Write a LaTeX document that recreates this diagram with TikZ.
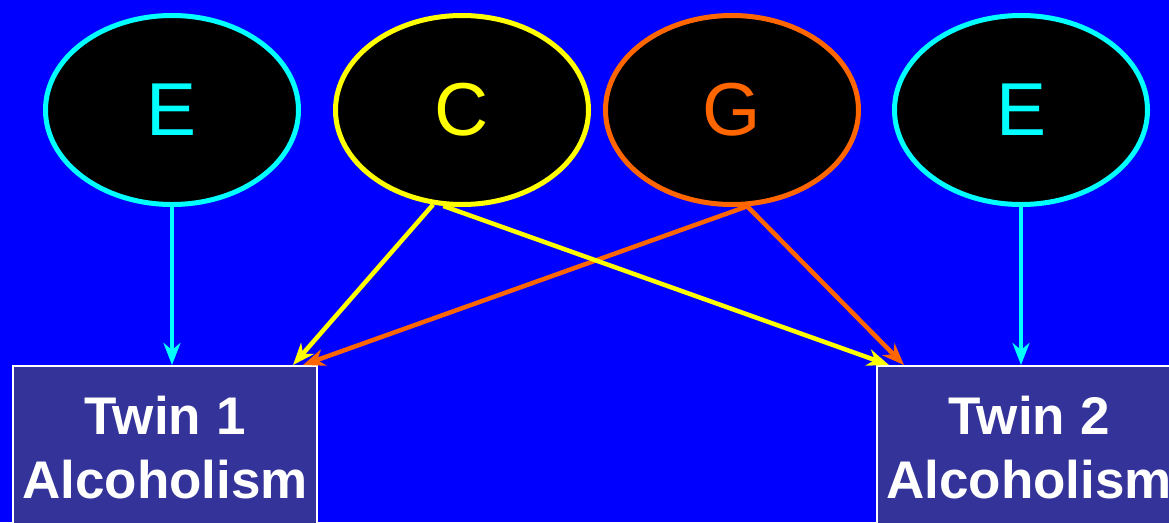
\documentclass[tikz,border=0pt]{standalone}
\usepackage{fontspec}
\setmainfont{Liberation Sans}
\usetikzlibrary{shapes.geometric, arrows.meta, positioning, calc}
\definecolor{slideblue}{RGB}{0, 0, 255}
\definecolor{boxblue}{RGB}{51, 51, 153}
\definecolor{envcyan}{RGB}{0, 255, 255}
\definecolor{sharedyellow}{RGB}{255, 255, 0}
\definecolor{geneorange}{RGB}{255, 102, 0}

\tikzset{
    factor/.style={ellipse, fill=black, line width=5pt, inner sep=0pt,
          minimum width=253pt, minimum height=189pt,
          font=\fontsize{75}{75}\selectfont},
    twinbox/.style={rectangle, fill=boxblue, draw=white, line width=2pt,
          minimum width=304pt, minimum height=164pt, align=center,
          text=white, font=\fontsize{53}{64}\selectfont\bfseries},
    path/.style={line width=4.5pt, -{Stealth[length=22pt, width=17pt, inset=7pt]}}
}

\begin{document}
\begin{tikzpicture}[x=1pt, y=-1pt]
    \fill[slideblue] (0,0) rectangle (1169,522);
    \useasboundingbox (0,0) rectangle (1169,522);

    % latent factors
    \node[factor, draw=envcyan, text=envcyan] (e1) at (172,110) {E};
    \node[factor, draw=sharedyellow, text=sharedyellow] (c) at (462,110) {C};
    \node[factor, draw=geneorange, text=geneorange] (g) at (732,110) {G};
    \node[factor, draw=envcyan, text=envcyan] (e2) at (1021,110) {E};

    % observed twins
    \node[twinbox] (tw1) at (165,448) {Twin 1\\Alcoholism};
    \node[twinbox] (tw2) at (1029,448) {Twin 2\\Alcoholism};

    % paths
    \draw[path, envcyan] (e1.south) -- (e1.south |- tw1.north);
    \draw[path, envcyan] (e2.south) -- (e2.south |- tw2.north);
    \draw[path, geneorange] (g.279) -- ([xshift=-15pt]tw1.north east);
    \draw[path, geneorange] (g.279) -- ([xshift=28pt]tw2.north west);
    \draw[path, sharedyellow] (c.253) -- ([xshift=-25pt]tw1.north east);
    \draw[path, sharedyellow] (c.259) -- ([xshift=13pt]tw2.north west);
\end{tikzpicture}
\end{document}
